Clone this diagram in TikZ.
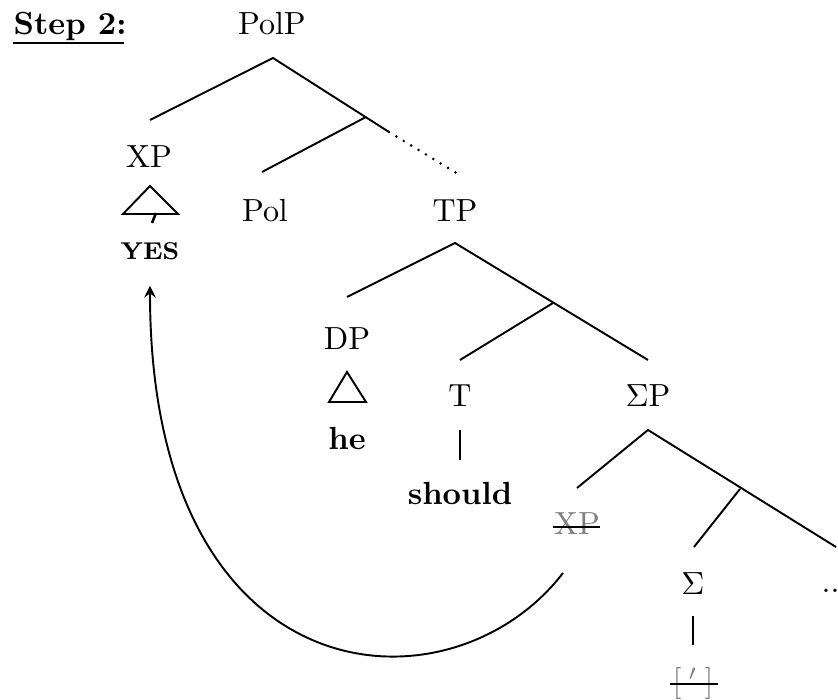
\documentclass[tikz,border=0pt]{standalone}
\usepackage{tikz}
\begin{document}
\begin{tikzpicture}[x=0.3125pt,y=-0.3125pt,
  lbl/.style={anchor=base,inner sep=0pt},
  edge/.style={line width=0.6pt},
  gone/.style={lbl,text=gray},
  strike/.style={line width=0.6pt}]
\useasboundingbox (0,0) rectangle (838,700);
% labels
\node[lbl,anchor=base west] (step) at (13,35) {\textbf{Step 2:}};
\draw[line width=0.6pt] (13,43) -- (124,43);
\node[lbl] (polp) at (272,35) {PolP};
\node[lbl] (xp) at (149,168) {XP};
\node[lbl] (yes) at (150,260) {\fontsize{7.6}{9}\selectfont\textbf{YES}};
\node[lbl] (pol) at (265,222) {Pol};
\node[lbl] (tp) at (455,222) {TP};
\node[lbl] (dp) at (347,350) {DP};
\node[lbl] (he) at (347,450) {\textbf{he}};
\node[lbl] (t) at (460,407) {T};
\node[lbl] (should) at (460,505) {\textbf{should}};
\node[lbl] (sp) at (648,407) {$\Sigma$P};
\node[gone] (xpg) at (577,535) {XP};
\node[lbl] (sig) at (693,595) {$\Sigma$};
\node[gone] (acc) at (693,692) {[\hspace{2.2pt}$'$\hspace{2.2pt}]};
\node[lbl,anchor=base west] (dots) at (821,593) {...};
% strike-throughs
\draw[strike] (553,527) -- (600,527);
\draw[strike] (670,684) -- (718,684);
% tree lines
\coordinate (a1) at (273,58);
\coordinate (a1l) at (150,120);
\coordinate (a1r) at (389,132);
\coordinate (a1d) at (458,174);
\coordinate (b1) at (366,117);
\coordinate (b1l) at (262,172);
\draw[edge] (a1l) -- (a1) -- (a1r);
\draw[line width=0.9pt,line cap=round,dash pattern=on 0pt off 2.7pt] (a1r) -- (a1d);
\draw[edge] (b1) -- (b1l);
\coordinate (a2) at (455,243);
\coordinate (a2l) at (347,297);
\coordinate (a2r) at (648,360);
\coordinate (b2) at (553,303);
\coordinate (b2l) at (460,360);
\draw[edge] (a2l) -- (a2) -- (a2r);
\draw[edge] (b2) -- (b2l);
\coordinate (a3) at (648,430);
\coordinate (a3l) at (577,488);
\coordinate (a3r) at (836,547);
\coordinate (b3) at (740,489);
\coordinate (b3l) at (694,547);
\draw[edge] (a3l) -- (a3) -- (a3r);
\draw[edge] (b3) -- (b3l);
\draw[edge] (460,430) -- (460,460);
\draw[edge] (693,616) -- (693,645);
% triangles
\draw[edge] (150,186) -- (178,214) -- (123,214) -- cycle;
\draw[line width=0.8pt] (152,223) -- (156,213);
\draw[edge] (347,372) -- (366,402) -- (329,402) -- cycle;
% movement arrow
\coordinate (mvs) at (563,573);
\coordinate (mve) at (150,286);
\draw[edge,-stealth] (mvs) .. controls (450,720) and (150,700) .. (mve);
\end{tikzpicture}
\end{document}
